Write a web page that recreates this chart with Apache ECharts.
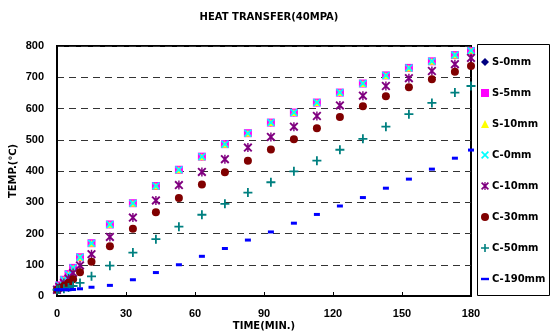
<!DOCTYPE html>
<html>
<head>
<meta charset="utf-8">
<script src="https://cdn.jsdelivr.net/npm/echarts@6/dist/echarts.min.js"></script>
<style>
html, body { margin: 0; padding: 0; background: #fff; }
#main { width: 550px; height: 335px; }
</style>
</head>
<body>
<div id="main"></div>
<script>
// time in minutes
var times = [0, 1, 3, 5, 7, 10, 15, 23, 33, 43, 53, 63, 73, 83, 93, 103, 113, 123, 133, 143, 153, 163, 173, 180];

var s0   = [20, 33, 51, 69, 89, 123, 168, 228, 296, 351, 403, 445, 485, 520, 554, 586, 618, 650, 679, 705, 729, 750, 770, 783];
var s5   = [20, 34, 52, 70, 90, 124, 169, 229, 297, 352, 404, 446, 486, 521, 555, 587, 619, 651, 680, 706, 730, 751, 771, 784];
var s10  = [20, 34, 52, 70, 90, 124, 169, 229, 297, 352, 404, 446, 486, 521, 555, 587, 619, 651, 680, 706, 730, 751, 771, 785];
var c0   = [20, 34, 52, 70, 90, 124, 169, 229, 297, 352, 404, 446, 486, 521, 555, 587, 619, 651, 680, 706, 730, 751, 771, 785];
var c10  = [20, 29, 42, 56, 74, 98, 134, 189, 251, 306, 355, 397, 438, 475, 509, 542, 576, 610, 641, 672, 697, 720, 742, 762];
var c30  = [20, 25, 33, 42, 54, 76, 110, 159, 215, 268, 314, 357, 396, 433, 469, 502, 537, 573, 607, 639, 668, 694, 718, 736];
var c50  = [20, 21, 23, 27, 32, 42, 63, 97, 139, 182, 222, 260, 295, 331, 364, 399, 433, 468, 503, 542, 582, 618, 651, 672];
var c190 = [20, 20, 20, 20, 21, 23, 28, 34, 52, 75, 100, 127, 152, 179, 205, 233, 261, 288, 315, 345, 374, 406, 441, 467];

var names = ['S-0mm', 'S-5mm', 'S-10mm', 'C-0mm', 'C-10mm', 'C-30mm', 'C-50mm', 'C-190mm'];

var FONT = '"DejaVu Sans", sans-serif';
var NUMFONT = '"Liberation Sans", Arial, sans-serif';

var crossPath = 'path://M0,1.5L1.5,0L10,8.5L8.5,10ZM8.5,0L10,1.5L1.5,10L0,8.5Z';
var plusPath = 'path://M4,0H6V4H10V6H6V10H4V6H0V4H4Z';
var starPath = 'path://M4.2,0H5.8V10H4.2ZM0,1.5L1.5,0L10,8.5L8.5,10ZM8.5,0L10,1.5L1.5,10L0,8.5Z';
var dashPath = 'path://M0,3.5H10V6.5H0Z';

function pairs(vals) {
    return times.map(function (t, i) { return [t, vals[i]]; });
}

var myChart = echarts.init(document.getElementById('main'));

myChart.setOption({
    animation: false,
    backgroundColor: '#fff',
    title: {
        text: 'HEAT TRANSFER(40MPA)',
        left: 264,
        textAlign: 'center',
        top: 7,
        textStyle: { fontFamily: FONT, fontSize: 10, fontWeight: 'bold', color: '#000' }
    },
    legend: {
        orient: 'vertical',
        left: 481,
        top: 57,
        padding: 0,
        itemGap: 21,
        itemWidth: 8,
        itemHeight: 8,
        textStyle: { fontFamily: FONT, fontSize: 10, fontWeight: 'bold', color: '#000', padding: [0, 0, 0, -2] },
        data: [
            { name: 'S-0mm', icon: 'diamond' },
            { name: 'S-5mm', icon: 'rect' },
            { name: 'S-10mm', icon: 'triangle' },
            { name: 'C-0mm', icon: crossPath },
            { name: 'C-10mm', icon: starPath },
            { name: 'C-30mm', icon: 'circle' },
            { name: 'C-50mm', icon: plusPath },
            { name: 'C-190mm', icon: dashPath }
        ]
    },
    graphic: [{
        type: 'rect',
        shape: { x: 477.5, y: 44.5, width: 72, height: 251 },
        style: { fill: 'none', stroke: '#000', lineWidth: 1 },
        z: -1
    }],
    grid: {
        left: 57,
        right: 79,
        top: 46,
        bottom: 39,
        outerBoundsMode: 'none',
        containLabel: false,
        show: true,
        borderColor: '#000',
        borderWidth: 2,
        backgroundColor: 'transparent'
    },
    xAxis: {
        type: 'value',
        min: 0,
        max: 180,
        interval: 30,
        name: 'TIME(MIN.)',
        nameLocation: 'middle',
        nameGap: 25,
        nameMoveOverlap: false,
        nameTextStyle: { fontFamily: FONT, fontSize: 10, fontWeight: 'bold', color: '#000' },
        axisLine: { lineStyle: { color: '#000', width: 2 } },
        axisTick: { inside: true, length: 4, lineStyle: { color: '#000' } },
        axisLabel: { fontFamily: NUMFONT, fontSize: 11, fontWeight: 'bold', color: '#000', margin: 12 },
        splitLine: { show: false }
    },
    yAxis: {
        type: 'value',
        min: 0,
        max: 800,
        interval: 100,
        name: 'TEMP.(℃)',
        nameLocation: 'middle',
        nameGap: 39,
        nameMoveOverlap: false,
        nameTextStyle: { fontFamily: FONT, fontSize: 10, fontWeight: 'bold', color: '#000' },
        axisLine: { show: true, lineStyle: { color: '#000', width: 2 } },
        axisTick: { show: false },
        axisLabel: { fontFamily: NUMFONT, fontSize: 11, fontWeight: 'bold', color: '#000', margin: 13 },
        splitLine: { lineStyle: { color: '#333', type: [7, 5], width: 1 } }
    },
    series: [
        { name: names[0], type: 'scatter', data: pairs(s0), symbol: 'diamond', symbolSize: 7, itemStyle: { color: '#000080', opacity: 1 } },
        { name: names[1], type: 'scatter', data: pairs(s5), symbol: 'rect', symbolSize: 8, itemStyle: { color: '#ff00ff', opacity: 1 } },
        { name: names[2], type: 'scatter', data: pairs(s10), symbol: 'triangle', symbolSize: 7, itemStyle: { color: '#ffff00', opacity: 1 } },
        { name: names[3], type: 'scatter', data: pairs(c0), symbol: crossPath, symbolSize: 8, itemStyle: { color: '#00ffff', opacity: 1 } },
        { name: names[4], type: 'scatter', data: pairs(c10), symbol: starPath, symbolSize: 9, itemStyle: { color: '#800080', opacity: 1 } },
        { name: names[5], type: 'scatter', data: pairs(c30), symbol: 'circle', symbolSize: 8, itemStyle: { color: '#800000', opacity: 1 } },
        { name: names[6], type: 'scatter', data: pairs(c50), symbol: plusPath, symbolSize: 9, itemStyle: { color: '#008080', opacity: 1 } },
        { name: names[7], type: 'scatter', data: pairs(c190), symbol: 'rect', symbolSize: [6, 3], itemStyle: { color: '#0000ff', opacity: 1 } }
    ]
});

window.addEventListener('resize', function () {
    myChart.resize();
});
</script>
</body>
</html>
